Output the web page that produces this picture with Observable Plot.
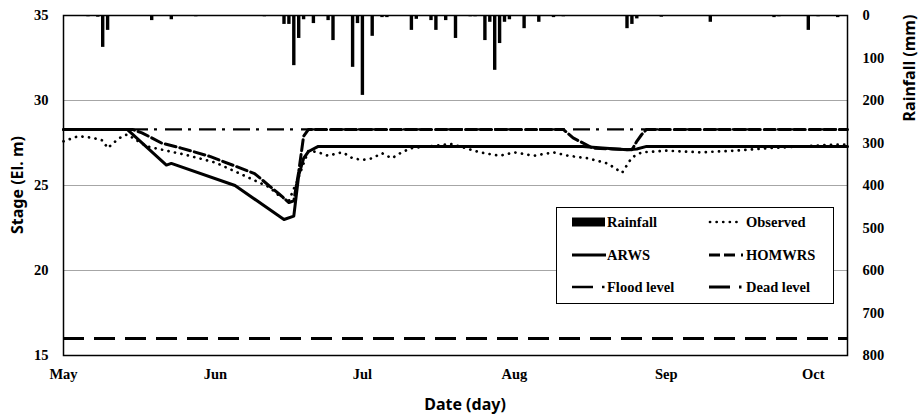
<!DOCTYPE html>
<html><head><meta charset="utf-8">
<script src="https://cdn.jsdelivr.net/npm/d3@7"></script>
<script src="https://cdn.jsdelivr.net/npm/@observablehq/plot@0.6"></script>
<style>
body{margin:0;background:#fff;}
#chart{width:919px;height:419px;}
</style></head><body><div id="chart"></div>
<script>
const YEAR = 2012;
const xStart = "05-01", xEnd = "10-08";
const monthTicks = ["05-01","06-01","07-01","08-01","09-01","10-01"];
const stageTicks = [15,20,25,30,35];
const rainTicks = [0,100,200,300,400,500,600,700,800];
const floodLevel = 28.3;
const deadLevel = 16.0;

const rainDates = ["05-06","05-08","05-09","05-10","05-19","05-23","05-28","06-11","06-15","06-16","06-17","06-18","06-19","06-21","06-24","06-25","06-29","06-30","07-01","07-03","07-05","07-06","07-11","07-12","07-15","07-16","07-18","07-20","07-23","07-24","07-26","07-27","07-28","07-29","07-30","07-31","08-03","08-06","08-09","08-11","08-24","08-25","08-26","08-31","09-10","09-23","09-24","09-30","10-02","10-06"];
const rainMm = [3,4,75,35,12,10,3,3,21,21,118,54,10,19,12,59,122,19,188,49,5,5,35,9,12,35,12,54,3,3,59,16,129,66,16,10,31,16,5,3,31,21,8,4,16,5,3,35,3,5];

const obsDates = ["05-01","05-04","05-07","05-09","05-10","05-12","05-13","05-14","05-18","05-26","06-01","06-06","06-12","06-14","06-16","06-18","06-19","06-20","06-22","06-24","06-26","06-27","06-29","07-01","07-03","07-04","07-05","07-07","07-09","07-11","07-16","07-19","07-22","07-25","07-29","08-01","08-05","08-09","08-12","08-16","08-20","08-23","08-25","08-27","09-01","09-08","09-15","09-22","09-29","10-05","10-08"];
const obsStage = [27.6,27.9,27.8,27.65,27.2,27.7,27.9,28.0,27.3,26.8,26.35,25.7,24.9,24.4,24.1,25.5,26.3,27.05,26.95,26.75,26.9,26.95,26.6,26.5,26.6,26.75,26.9,26.6,26.95,27.2,27.35,27.45,27.2,26.95,26.75,26.95,26.75,26.95,26.75,26.6,26.3,25.75,26.65,26.95,27.05,26.95,27.05,27.2,27.3,27.4,27.4];

const arwsDates = ["05-01","05-14","05-22","05-23","06-05","06-15","06-17","06-18","06-19","06-20","06-22","08-15","08-19","08-24","08-26","08-28","10-08"];
const arwsStage = [28.3,28.3,26.2,26.3,25.0,23.0,23.2,25.6,26.6,27.0,27.3,27.3,27.2,27.1,27.15,27.3,27.3];

const homDates = ["05-01","05-15","05-17","05-21","05-25","05-31","06-09","06-14","06-16","06-17","06-18","06-19","06-20","08-11","08-13","08-17","08-21","08-25","08-26","08-27","08-28","10-08"];
const homStage = [28.3,28.3,28.1,27.5,27.2,26.7,25.7,24.5,24.0,24.1,25.8,27.9,28.3,28.3,27.8,27.2,27.15,27.1,27.6,28.0,28.3,28.3];

const legendLabels = ["Rainfall","Observed","ARWS","HOMWRS","Flood level","Dead level"];

const parse = s => new Date(`${YEAR}-${s}T00:00:00Z`);
const STAGE_MIN = 15, STAGE_MAX = 35, RAIN_MAX = 800;
const rainToStage = mm => STAGE_MAX - mm * (STAGE_MAX - STAGE_MIN) / RAIN_MAX;

const rain = rainDates.map((d,i) => ({date: parse(d), mm: rainMm[i]}));
const obs = obsDates.map((d,i) => ({date: parse(d), v: obsStage[i]}));
const arws = arwsDates.map((d,i) => ({date: parse(d), v: arwsStage[i]}));
const hom = homDates.map((d,i) => ({date: parse(d), v: homStage[i]}));

const serif = "'Liberation Serif','Times New Roman',serif";
const sans = "'Noto Sans','Open Sans',sans-serif";

const chart = Plot.plot({
  width: 919, height: 419,
  marginLeft: 63, marginRight: 72, marginTop: 15, marginBottom: 64,
  style: {fontFamily: serif, fontSize: "14.5px", fontWeight: "bold", color: "#000", background: "#fff", overflow: "visible"},
  x: {type: "utc", domain: [parse(xStart), parse(xEnd)]},
  y: {domain: [STAGE_MIN, STAGE_MAX]},
  marks: [
    Plot.gridY(stageTicks.filter(v => v > STAGE_MIN && v < STAGE_MAX), {stroke: "#a6a6a6", strokeOpacity: 1, strokeWidth: 1}),
    Plot.ruleX(rain, {x: "date", y1: STAGE_MAX, y2: d => rainToStage(d.mm), stroke: "#000", strokeWidth: 3.4}),
    Plot.ruleY([deadLevel], {stroke: "#000", strokeWidth: 3.2, strokeDasharray: "21,10"}),
    Plot.ruleY([floodLevel], {stroke: "#000", strokeWidth: 2.2, strokeDasharray: "17,6,3,8"}),
    Plot.line(obs, {x: "date", y: "v", stroke: "#000", strokeWidth: 2.7, strokeDasharray: "0.1,6.5", strokeLinecap: "round"}),
    Plot.line(hom, {x: "date", y: "v", stroke: "#000", strokeWidth: 3, strokeDasharray: "11,4"}),
    Plot.line(arws, {x: "date", y: "v", stroke: "#000", strokeWidth: 3, strokeLinejoin: "round"}),
    Plot.frame({stroke: "#000", strokeWidth: 1.5}),
    Plot.axisY(stageTicks, {anchor: "left", tickSize: 0, tickPadding: 15, label: null}),
    Plot.axisY(rainTicks.map(rainToStage), {anchor: "right", tickSize: 0, tickPadding: 15, label: null,
      tickFormat: v => String(Math.round((STAGE_MAX - v) * RAIN_MAX / (STAGE_MAX - STAGE_MIN)))}),
    Plot.axisX(monthTicks.map(parse), {tickSize: 0, tickPadding: 13, label: null, tickFormat: d3.utcFormat("%b")})
  ]
});
document.getElementById("chart").appendChild(chart);

const svg = d3.select(chart);
// axis titles
svg.append("text").attr("transform", "translate(23,185) rotate(-90)")
  .attr("text-anchor", "middle").style("font-family", sans).style("font-size", "16px").style("font-weight", "bold")
  .text("Stage (El. m)");
svg.append("text").attr("transform", "translate(915,68) rotate(-90)")
  .attr("text-anchor", "middle").style("font-family", sans).style("font-size", "16px").style("font-weight", "bold")
  .text("Rainfall (mm)");
svg.append("text").attr("x", 465).attr("y", 410)
  .attr("text-anchor", "middle").style("font-family", sans).style("font-size", "16px").style("font-weight", "bold")
  .text("Date (day)");

// legend
const lg = svg.append("g").attr("text-anchor", "start")
  .style("font-family", serif).style("font-size", "14.5px").style("font-weight", "bold");
lg.append("rect").attr("x", 556.5).attr("y", 207.5).attr("width", 277).attr("height", 96)
  .attr("fill", "#fff").attr("stroke", "#000").attr("stroke-width", 1);
const cols = [572, 709], rows = [222, 255, 287];
function label(c, r, t, dx) {
  lg.append("text").attr("x", cols[c] + dx).attr("y", rows[r]).attr("dy", "0.35em")
    .attr("text-anchor", "start").text(t);
}
// Rainfall
lg.append("rect").attr("x", cols[0]).attr("y", rows[0] - 4.5).attr("width", 33).attr("height", 9).attr("fill", "#000");
label(0, 0, legendLabels[0], 35);
// Observed
lg.append("line").attr("x1", cols[1] + 1).attr("x2", cols[1] + 34).attr("y1", rows[0]).attr("y2", rows[0])
  .attr("stroke", "#000").attr("stroke-width", 2.7).attr("stroke-linecap", "round").attr("stroke-dasharray", "0.1,6.5");
label(1, 0, legendLabels[1], 37);
// ARWS
lg.append("line").attr("x1", cols[0]).attr("x2", cols[0] + 34).attr("y1", rows[1]).attr("y2", rows[1])
  .attr("stroke", "#000").attr("stroke-width", 3);
label(0, 1, legendLabels[2], 35);
// HOMWRS
lg.append("line").attr("x1", cols[1]).attr("x2", cols[1] + 34).attr("y1", rows[1]).attr("y2", rows[1])
  .attr("stroke", "#000").attr("stroke-width", 3).attr("stroke-dasharray", "11,4,11,6,2.5,20");
label(1, 1, legendLabels[3], 37);
// Flood level
lg.append("line").attr("x1", cols[0]).attr("x2", cols[0] + 34).attr("y1", rows[2]).attr("y2", rows[2])
  .attr("stroke", "#000").attr("stroke-width", 2.4).attr("stroke-dasharray", "21,9,2.5,20");
label(0, 2, legendLabels[4], 35);
// Dead level
lg.append("line").attr("x1", cols[1]).attr("x2", cols[1] + 34).attr("y1", rows[2]).attr("y2", rows[2])
  .attr("stroke", "#000").attr("stroke-width", 3).attr("stroke-dasharray", "21,9,2.5,20");
label(1, 2, legendLabels[5], 37);
</script>
</body></html>
